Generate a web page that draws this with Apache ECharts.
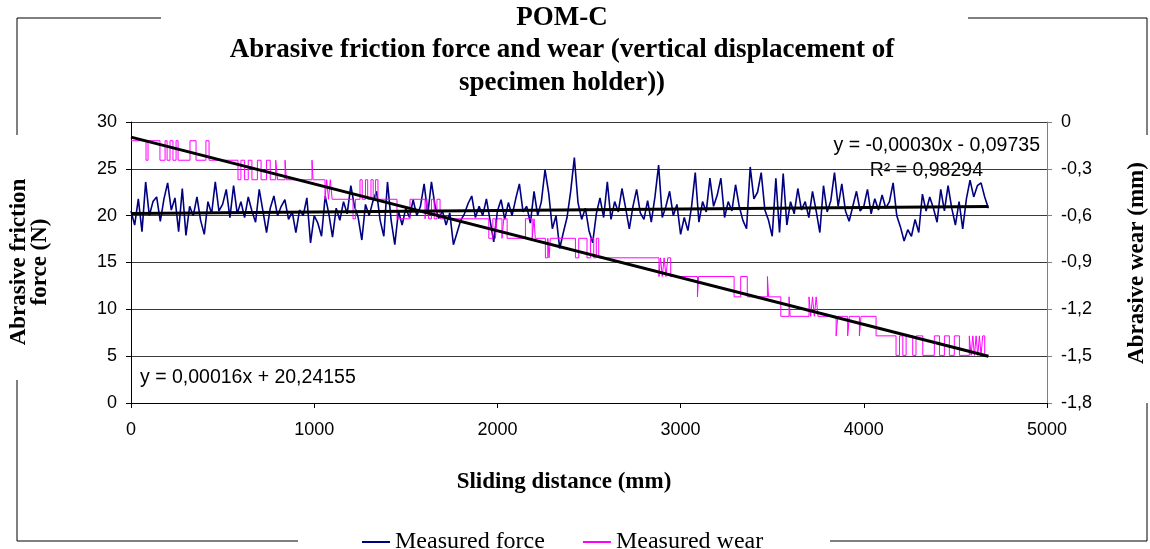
<!DOCTYPE html>
<html>
<head>
<meta charset="utf-8">
<script src="https://cdn.jsdelivr.net/npm/echarts@6.0.0/dist/echarts.min.js"></script>
<style>
  html, body { margin: 0; padding: 0; background: #fff; }
  #chart { width: 1150px; height: 549px; }
</style>
</head>
<body>
<div id="chart"></div>
<script>
// force readings, one every 20 mm of sliding distance (0 .. 4680 mm)
var forceStep = 20;
var forceValues = [
  20.5, 19.0, 21.8, 18.3, 23.6, 20.0, 21.5, 22.0, 19.4, 21.8, 23.5, 20.6, 21.9, 18.3, 22.9, 17.9, 21.0, 20.0, 22.0, 19.5, 18.0, 21.5, 20.2, 23.6, 20.5,
  21.2, 22.8, 19.8, 23.2, 20.2, 21.5, 19.8, 22.0, 20.5, 19.3, 22.8, 20.5, 18.2, 20.8, 22.1, 20.0, 21.0, 21.7, 19.6, 20.4, 18.2, 20.6, 20.0, 21.9, 17.1,
  20.0, 19.2, 17.8, 22.1, 20.2, 17.7, 20.8, 19.5, 21.5, 20.2, 23.2, 21.0, 19.8, 17.4, 21.2, 20.0, 21.5, 22.6, 19.5, 17.8, 23.6, 19.5, 16.9, 20.5, 19.0,
  20.8, 19.8, 21.7, 20.0, 21.0, 23.4, 20.2, 23.6, 21.0, 19.7, 20.5, 19.0, 20.3, 16.9, 18.2, 19.5, 20.2, 21.3, 22.1, 19.8, 21.0, 20.0, 21.8, 19.5, 17.2,
  20.5, 21.7, 19.6, 21.4, 20.0, 21.8, 23.4, 20.4, 21.0, 19.2, 22.6, 20.0, 21.5, 24.9, 22.4, 18.6, 20.0, 16.5, 18.2, 19.8, 22.6, 26.2, 21.4, 19.6, 20.8,
  18.4, 17.1, 20.2, 21.9, 19.8, 23.6, 19.6, 21.5, 20.4, 22.9, 20.8, 18.6, 21.0, 22.8, 20.3, 19.6, 21.6, 19.3, 22.0, 25.4, 19.8, 21.0, 22.6, 20.0, 21.2,
  18.0, 19.8, 18.4, 21.0, 24.6, 19.3, 21.5, 20.4, 24.0, 21.0, 22.2, 24.0, 19.8, 21.5, 20.5, 23.3, 21.0, 19.5, 18.6, 25.2, 21.8, 22.5, 24.6, 20.6, 19.5,
  17.8, 24.0, 18.2, 24.5, 19.0, 21.5, 20.2, 22.9, 20.6, 21.5, 19.8, 22.6, 20.5, 18.2, 23.2, 20.4, 21.6, 24.6, 21.0, 23.4, 20.5, 19.4, 21.0, 22.6, 20.5,
  21.0, 22.8, 20.2, 21.8, 20.6, 22.2, 20.8, 21.5, 23.5, 20.0, 18.8, 17.3, 18.5, 17.8, 19.6, 18.2, 22.3, 20.5, 22.0, 20.8, 19.3, 22.8, 20.5, 23.2, 20.8,
  19.0, 21.5, 18.6, 21.8, 23.8, 22.0, 23.2, 23.5, 22.0, 20.8
];

// wear: distance where the reading changes, and the new reading (mm)
var wearDist = [
  0, 82, 93, 158, 186, 197, 213, 229, 246, 257, 322, 355, 409, 426,
  584, 600, 620, 640, 660, 690, 710, 740, 760, 790, 800, 841, 848, 988, 994,
  1059, 1068, 1078, 1088, 1098, 1212, 1225, 1250, 1262, 1280, 1292, 1310, 1322, 1335, 1348,
  1452, 1523, 1605, 1615, 1625, 1640, 1655, 1670, 1687,
  1953, 1975, 1989, 1998, 2025, 2035, 2053, 2153, 2190, 2200, 2207,
  2262, 2275, 2282, 2289, 2426, 2444, 2489, 2508, 2526, 2540, 2553,
  2882, 2890, 2900, 2910, 2920, 2930, 2946, 3092, 3098, 3292, 3328, 3364, 3474, 3480,
  3547, 3592, 3598, 3701, 3710, 3720, 3730, 3740, 3750,
  3849, 3858, 3912, 3921, 3976, 3985, 4067,
  4176, 4195, 4213, 4231, 4267, 4285, 4322, 4385, 4413, 4440, 4467, 4494, 4522,
  4576, 4586, 4595, 4604, 4613, 4622, 4631, 4640, 4649, 4660, 4680
];
var wearVal = [
  -0.12, -0.245, -0.12, -0.245, -0.12, -0.245, -0.12, -0.245, -0.12, -0.245, -0.12, -0.245, -0.12, -0.245,
  -0.37, -0.245, -0.37, -0.245, -0.37, -0.245, -0.37, -0.245, -0.37, -0.245, -0.37, -0.245, -0.37, -0.245, -0.37,
  -0.495, -0.37, -0.495, -0.37, -0.495, -0.62, -0.495, -0.37, -0.495, -0.37, -0.495, -0.37, -0.495, -0.37, -0.495,
  -0.62, -0.495, -0.62, -0.495, -0.62, -0.495, -0.62, -0.495, -0.62,
  -0.745, -0.62, -0.745, -0.62, -0.745, -0.62, -0.745, -0.62, -0.745, -0.62, -0.745,
  -0.87, -0.745, -0.87, -0.745, -0.87, -0.745, -0.87, -0.745, -0.87, -0.745, -0.87,
  -0.99, -0.87, -0.99, -0.87, -0.99, -0.87, -0.99, -1.12, -0.99, -1.12, -0.99, -1.12, -0.99, -1.12,
  -1.245, -1.12, -1.245, -1.12, -1.245, -1.12, -1.245, -1.12, -1.245,
  -1.37, -1.245, -1.37, -1.245, -1.37, -1.245, -1.37,
  -1.495, -1.37, -1.495, -1.37, -1.495, -1.37, -1.495, -1.37, -1.495, -1.37, -1.495, -1.37, -1.495,
  -1.37, -1.495, -1.37, -1.495, -1.37, -1.495, -1.37, -1.495, -1.37, -1.495, -1.495
];

// linear trend lines (end points)
var forceTrendX = [0, 4680];
var forceTrendY = [20.24, 20.99];
var wearTrendX = [0, 4680];
var wearTrendY = [-0.097, -1.501];

var myChart = echarts.init(document.getElementById('chart'));

var forceData = forceValues.map(function (v, i) { return [i * forceStep, v]; });
var wearData = wearDist.map(function (d, i) { return [d, wearVal[i]]; });
var forceTrend = forceTrendX.map(function (d, i) { return [d, forceTrendY[i]]; });
var wearTrend = wearTrendX.map(function (d, i) { return [d, wearTrendY[i]]; });

var serif = '"Liberation Serif", "Times New Roman", serif';
var sans = '"Liberation Sans", Arial, sans-serif';

function frameLine(x1, y1, x2, y2) {
  return {
    type: 'line',
    shape: {x1: x1, y1: y1, x2: x2, y2: y2},
    style: {stroke: '#000', lineWidth: 1}
  };
}

function label(text, x, y, opt) {
  return {
    type: 'text',
    x: x,
    y: y,
    rotation: opt.rotation || 0,
    style: {
      text: text,
      fill: '#000',
      font: opt.font,
      textAlign: opt.align || 'center',
      textVerticalAlign: 'middle',
      lineHeight: opt.lineHeight
    }
  };
}

var option = {
  animation: false,
  backgroundColor: '#fff',
  grid: {left: 131, right: 103, top: 122, bottom: 146},
  legend: {
    data: ['Measured force', 'Measured wear'],
    left: 357,
    top: 525,
    icon: 'rect',
    itemWidth: 28,
    itemHeight: 2,
    itemGap: 38,
    textStyle: {fontFamily: serif, fontSize: 24, color: '#000'}
  },
  xAxis: {
    type: 'value',
    min: 0,
    max: 5000,
    interval: 1000,
    axisLine: {lineStyle: {color: '#000', width: 1}},
    axisTick: {length: 5, lineStyle: {color: '#000'}},
    axisLabel: {
      color: '#000', fontFamily: sans, fontSize: 18, margin: 18,
      formatter: function (v) { return String(v); }
    },
    splitLine: {show: false}
  },
  yAxis: [
    {
      type: 'value',
      min: 0,
      max: 30,
      interval: 5,
      axisLine: {show: true, lineStyle: {color: '#000', width: 1}},
      axisTick: {show: true, length: 5, lineStyle: {color: '#000'}},
      axisLabel: {color: '#000', fontFamily: sans, fontSize: 18, margin: 14},
      splitLine: {show: true, lineStyle: {color: '#3a3a3a', width: 1}}
    },
    {
      type: 'value',
      min: -1.8,
      max: 0,
      interval: 0.3,
      position: 'right',
      axisLine: {show: true, lineStyle: {color: '#808080', width: 1}},
      axisTick: {show: true, length: 5, lineStyle: {color: '#808080'}},
      axisLabel: {
        color: '#000', fontFamily: sans, fontSize: 18, margin: 14,
        formatter: function (v) {
          if (Math.abs(v) < 1e-9) return '0';
          return v.toFixed(1).replace('.', ',');
        }
      },
      splitLine: {show: false}
    }
  ],
  series: [
    {
      name: 'Measured force',
      type: 'line',
      yAxisIndex: 0,
      data: forceData,
      showSymbol: false,
      symbol: 'none',
      lineStyle: {color: '#000080', width: 1.6},
      itemStyle: {color: '#000080'}
    },
    {
      name: 'Measured wear',
      type: 'line',
      yAxisIndex: 1,
      step: 'end',
      data: wearData,
      showSymbol: false,
      symbol: 'none',
      lineStyle: {color: '#ff00ff', width: 1},
      itemStyle: {color: '#ff00ff'}
    },
    {
      name: 'force trend',
      type: 'line',
      yAxisIndex: 0,
      data: forceTrend,
      symbol: 'none',
      silent: true,
      lineStyle: {color: '#000', width: 3}
    },
    {
      name: 'wear trend',
      type: 'line',
      yAxisIndex: 1,
      data: wearTrend,
      symbol: 'none',
      silent: true,
      lineStyle: {color: '#000', width: 3}
    }
  ],
  graphic: [
    // outer frame, broken where the titles sit
    frameLine(17, 18, 161, 18),
    frameLine(968, 18, 1147, 18),
    frameLine(17, 18, 17, 135),
    frameLine(17, 380, 17, 541),
    frameLine(1147, 18, 1147, 135),
    frameLine(1147, 403, 1147, 541),
    frameLine(17, 541, 298, 541),
    frameLine(830, 541, 1147, 541),

    label('POM-C', 562, 18, {font: 'bold 27px ' + serif}),
    label('Abrasive friction force and wear (vertical displacement of', 562, 50, {font: 'bold 27px ' + serif}),
    label('specimen holder))', 562, 83, {font: 'bold 27px ' + serif}),

    label('Abrasive friction\nforce (N)', 30, 262, {font: 'bold 23px ' + serif, rotation: Math.PI / 2, lineHeight: 21}),
    label('Abrasive wear (mm)', 1137, 263, {font: 'bold 23px ' + serif, rotation: Math.PI / 2}),
    label('Sliding distance (mm)', 564, 482, {font: 'bold 23px ' + serif}),

    label('y = 0,00016x + 20,24155', 140, 378, {font: '19.5px ' + sans, align: 'left'}),
    label('y = -0,00030x - 0,09735', 1040, 146, {font: '19.5px ' + sans, align: 'right'}),
    label('R\u00b2 = 0,98294', 983, 171, {font: '19.5px ' + sans, align: 'right'})
  ]
};

myChart.setOption(option);
</script>
</body>
</html>
